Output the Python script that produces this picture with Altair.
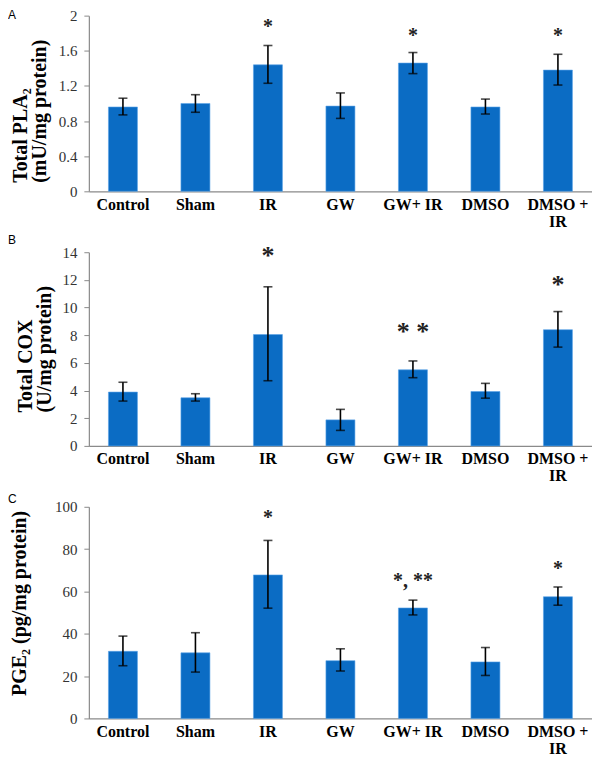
import altair as alt
import pandas as pd

groups = ["Control", "Sham", "IR", "GW", "GW+ IR", "DMSO", "DMSO + IR"]

pla2_mean = [0.96, 1.00, 1.44, 0.97, 1.46, 0.96, 1.38]
pla2_hi = [1.06, 1.10, 1.66, 1.12, 1.58, 1.05, 1.56]
pla2_lo = [0.87, 0.90, 1.23, 0.83, 1.34, 0.88, 1.21]
pla2_star = ["", "", "*", "", "*", "", "*"]
pla2_star_y = [0, 0, 1.89, 0, 1.79, 0, 1.79]

cox_mean = [3.89, 3.48, 8.05, 1.88, 5.50, 3.93, 8.40]
cox_hi = [4.60, 3.77, 11.50, 2.64, 6.14, 4.52, 9.71]
cox_lo = [3.24, 3.24, 4.71, 1.12, 4.93, 3.45, 7.14]
cox_star = ["", "", "*", "", "* *", "", "*"]
cox_star_y = [0, 0, 13.9, 0, 8.4, 0, 11.8]

pge_mean = [31.7, 31.0, 67.8, 27.3, 52.2, 26.7, 57.5]
pge_hi = [38.9, 40.5, 84.1, 32.9, 55.9, 33.5, 62.1]
pge_lo = [24.9, 21.9, 52.1, 22.4, 48.9, 20.3, 53.5]
pge_star = ["", "", "*", "", "*, **", "", "*"]
pge_star_y = [0, 0, 95.7, 0, 65.9, 0, 71.4]

BLUE = "#0b6cc4"
GRAY = "#8a8a8a"
SERIF = "Liberation Serif"


def panel(mean, hi, lo, star, star_y, ymax, step, title, letter, height, star_size,
          title_x, title_y, letter_y, fmt):
    df = pd.DataFrame({"g": groups, "m": mean, "hi": hi, "lo": lo})
    sdf = pd.DataFrame({"g": groups, "s": star, "sy": star_y})
    sdf = sdf[sdf["s"] != ""]
    ticks = [round(i * step, 4) for i in range(int(round(ymax / step)) + 1)]
    xaxis = alt.Axis(labelAngle=0, labelFont=SERIF, labelFontWeight="bold",
                     labelFontSize=16, labelColor="black", ticks=False,
                     domainColor=GRAY, domainWidth=1.2, labelPadding=5,
                     labelLineHeight=17,
                     labelExpr="datum.label == 'DMSO + IR' ? ['DMSO +', 'IR'] : datum.label")
    xscale = alt.Scale(paddingInner=0.6, paddingOuter=0.27)
    yaxis = alt.Axis(values=ticks, tickCount=len(ticks), format=fmt, labelOverlap=False,
                     grid=False, labelFont=SERIF, labelFontSize=15, labelColor="#333",
                     labelPadding=7,
                     domainColor=GRAY, domainWidth=1.2, tickColor=GRAY, tickSize=5,
                     titleFont=SERIF, titleFontWeight="bold", titleFontSize=20,
                     titleColor="black", titleLineHeight=19,
                     titleX=title_x, titleY=title_y, titleAngle=-90,
                     titleAlign="left", titleBaseline="bottom")
    yscale = alt.Scale(domain=[0, ymax], nice=False)
    X = lambda: alt.X("g:N", sort=groups, title=None, scale=xscale, axis=xaxis)
    bars = alt.Chart(df).mark_bar(color=BLUE, stroke="#5aa3e8", strokeWidth=0.6).encode(
        x=X(), y=alt.Y("m:Q", title=title, scale=yscale, axis=yaxis))
    err = alt.Chart(df).mark_errorbar(ticks=alt.TickConfig(size=9, thickness=1.6),
                                       color="black", thickness=1.6).encode(
        x=X(),
        y=alt.Y("hi:Q", title=title, scale=yscale, axis=yaxis),
        y2="lo:Q")
    stars = alt.Chart(sdf).mark_text(font=SERIF, fontSize=star_size, fontWeight="bold",
                                     color="#222", dy=2).encode(
        x=X(), y=alt.Y("sy:Q", title=title, scale=yscale, axis=yaxis), text="s:N")
    lab = alt.Chart(pd.DataFrame({"t": [letter]})).mark_text(
        font="Liberation Sans", fontSize=12, align="left", baseline="top", color="black").encode(
        x=alt.value(-81), y=alt.value(letter_y), text="t:N")
    return alt.layer(bars, err, stars, lab).properties(width=504, height=height)


a = panel(pla2_mean, pla2_hi, pla2_lo, pla2_star, pla2_star_y, 2, 0.4,
          ["Total PLA₂", "(mU/mg protein)"], "A", 176, 20, -58, 167, -6, "~g")
b = panel(cox_mean, cox_hi, cox_lo, cox_star, cox_star_y, 14, 2,
          ["Total COX", "(U/mg protein)"], "B", 194, 26, -53, 160, -17, "d")
c = panel(pge_mean, pge_hi, pge_lo, pge_star, pge_star_y, 100, 20,
          "PGE₂ (pg/mg protein)", "C", 212, 20, -59, 189, -13, "d")

chart = alt.vconcat(a, b, c, spacing=61, bounds="flush").configure_view(stroke=None).configure_axis(
    labelOverlap=False).properties(
    padding={"left": 0, "top": 0, "right": 0, "bottom": 0})

chart.save("out.html", embed_options={"renderer": "svg", "actions": False})
